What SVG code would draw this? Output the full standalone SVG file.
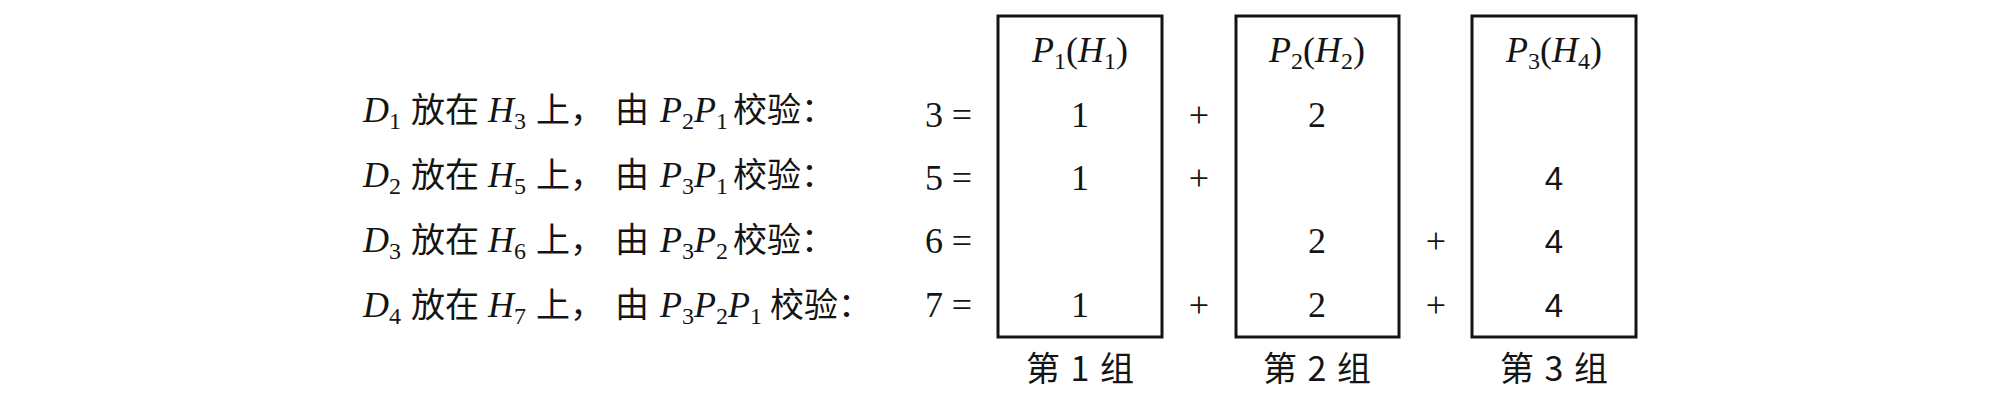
<svg xmlns="http://www.w3.org/2000/svg" width="1996" height="402" viewBox="0 0 1996 402">
<style>
  text { font-family: "Liberation Serif", "Noto Sans CJK SC", serif; font-size: 36px; fill: #141414; }
  .i { font-style: italic; }
  .s { font-size: 24px; font-style: normal; }
  .cn { font-family: "Noto Sans CJK SC", sans-serif; font-size: 34px; font-style: normal; }
  .m { text-anchor: middle; }
  .sans { font-family: "Liberation Sans", "Noto Sans", sans-serif; font-size: 33px; }
  .lab { font-family: "Noto Sans CJK SC", sans-serif; font-size: 34px; text-anchor: middle; word-spacing: 3px; }
  .box { fill: none; stroke: #141414; stroke-width: 3; }
</style>
<rect x="0" y="0" width="1996" height="402" fill="#ffffff"/>

<g id="left-labels">
  <text y="122"><tspan class="i" x="363">D</tspan><tspan class="s" dy="7">1</tspan><tspan class="cn" x="411" dy="-7">放在</tspan><tspan class="i" x="488">H</tspan><tspan class="s" dy="7">3</tspan><tspan class="cn" x="536" dy="-7">上，</tspan><tspan class="cn" x="615">由</tspan><tspan class="i" x="660">P</tspan><tspan class="s" dy="7">2</tspan><tspan class="i" dy="-7">P</tspan><tspan class="s" dy="7">1</tspan><tspan class="cn" x="733" dy="-7">校验：</tspan></text>
  <text y="187"><tspan class="i" x="363">D</tspan><tspan class="s" dy="7">2</tspan><tspan class="cn" x="411" dy="-7">放在</tspan><tspan class="i" x="488">H</tspan><tspan class="s" dy="7">5</tspan><tspan class="cn" x="536" dy="-7">上，</tspan><tspan class="cn" x="615">由</tspan><tspan class="i" x="660">P</tspan><tspan class="s" dy="7">3</tspan><tspan class="i" dy="-7">P</tspan><tspan class="s" dy="7">1</tspan><tspan class="cn" x="733" dy="-7">校验：</tspan></text>
  <text y="252"><tspan class="i" x="363">D</tspan><tspan class="s" dy="7">3</tspan><tspan class="cn" x="411" dy="-7">放在</tspan><tspan class="i" x="488">H</tspan><tspan class="s" dy="7">6</tspan><tspan class="cn" x="536" dy="-7">上，</tspan><tspan class="cn" x="615">由</tspan><tspan class="i" x="660">P</tspan><tspan class="s" dy="7">3</tspan><tspan class="i" dy="-7">P</tspan><tspan class="s" dy="7">2</tspan><tspan class="cn" x="733" dy="-7">校验：</tspan></text>
  <text y="317"><tspan class="i" x="363">D</tspan><tspan class="s" dy="7">4</tspan><tspan class="cn" x="411" dy="-7">放在</tspan><tspan class="i" x="488">H</tspan><tspan class="s" dy="7">7</tspan><tspan class="cn" x="536" dy="-7">上，</tspan><tspan class="cn" x="615">由</tspan><tspan class="i" x="660">P</tspan><tspan class="s" dy="7">3</tspan><tspan class="i" dy="-7">P</tspan><tspan class="s" dy="7">2</tspan><tspan class="i" dy="-7">P</tspan><tspan class="s" dy="7">1</tspan><tspan class="cn" x="770" dy="-7">校验：</tspan></text>
</g>

<g id="sums">
  <text class="m" x="934" y="127">3</text><text class="m" x="962" y="127">=</text>
  <text class="m" x="934" y="190">5</text><text class="m" x="962" y="190">=</text>
  <text class="m" x="934" y="253">6</text><text class="m" x="962" y="253">=</text>
  <text class="m" x="934" y="317">7</text><text class="m" x="962" y="317">=</text>
</g>

<g id="group1">
  <rect class="box" x="998" y="16" width="164" height="321"/>
  <text class="m" x="1080" y="62"><tspan class="i">P</tspan><tspan class="s" dy="7">1</tspan><tspan dy="-7">(</tspan><tspan class="i">H</tspan><tspan class="s" dy="7">1</tspan><tspan dy="-7">)</tspan></text>
  <text class="m" x="1080" y="127">1</text>
  <text class="m" x="1080" y="190">1</text>
  <text class="m" x="1080" y="317">1</text>
  <text class="lab" x="1080" y="381">第 1 组</text>
</g>

<g id="plus1">
  <text class="m" x="1199" y="127">+</text>
  <text class="m" x="1199" y="190">+</text>
  <text class="m" x="1199" y="317">+</text>
</g>

<g id="group2">
  <rect class="box" x="1236" y="16" width="163" height="321"/>
  <text class="m" x="1317" y="62"><tspan class="i">P</tspan><tspan class="s" dy="7">2</tspan><tspan dy="-7">(</tspan><tspan class="i">H</tspan><tspan class="s" dy="7">2</tspan><tspan dy="-7">)</tspan></text>
  <text class="m" x="1317" y="127">2</text>
  <text class="m" x="1317" y="253">2</text>
  <text class="m" x="1317" y="317">2</text>
  <text class="lab" x="1317" y="381">第 2 组</text>
</g>

<g id="plus2">
  <text class="m" x="1436" y="253">+</text>
  <text class="m" x="1436" y="317">+</text>
</g>

<g id="group3">
  <rect class="box" x="1472" y="16" width="164" height="321"/>
  <text class="m" x="1554" y="62"><tspan class="i">P</tspan><tspan class="s" dy="7">3</tspan><tspan dy="-7">(</tspan><tspan class="i">H</tspan><tspan class="s" dy="7">4</tspan><tspan dy="-7">)</tspan></text>
  <text class="m sans" x="1554" y="190">4</text>
  <text class="m sans" x="1554" y="253">4</text>
  <text class="m sans" x="1554" y="317">4</text>
  <text class="lab" x="1554" y="381">第 3 组</text>
</g>
</svg>
